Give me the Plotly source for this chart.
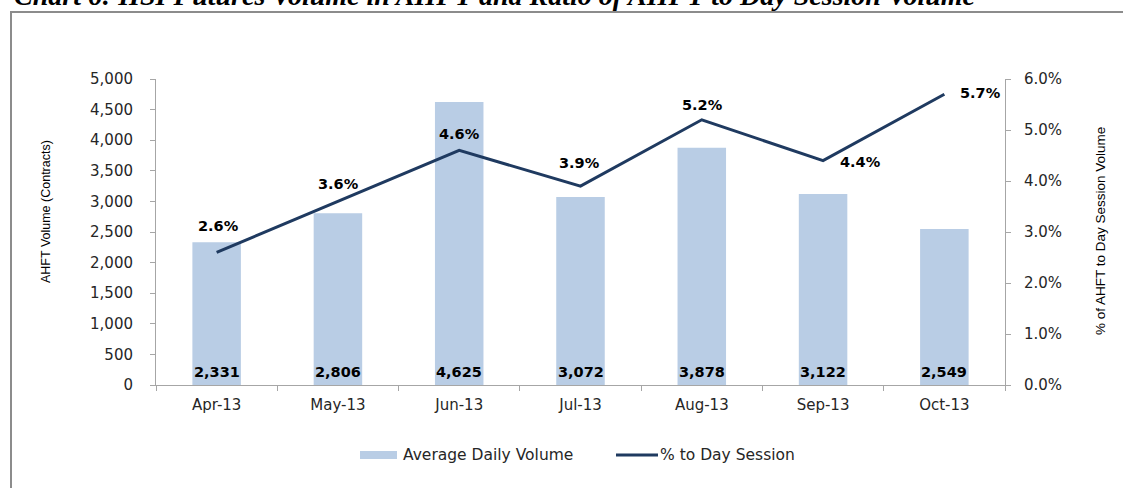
import plotly.graph_objects as go

months = ["Apr-13", "May-13", "Jun-13", "Jul-13", "Aug-13", "Sep-13", "Oct-13"]
volume = [2331, 2806, 4625, 3072, 3878, 3122, 2549]
ratio = [0.026, 0.036, 0.046, 0.039, 0.052, 0.044, 0.057]
vol_ticks = [0, 500, 1000, 1500, 2000, 2500, 3000, 3500, 4000, 4500, 5000]
pct_ticks = [0.0, 0.01, 0.02, 0.03, 0.04, 0.05, 0.06]

title_text = "Chart 6: HSI Futures Volume in AHFT and Ratio of AHFT to Day Session Volume"
left_title = "AHFT Volume (Contracts)"
right_title = "% of AHFT to Day Session Volume"
legend_bar = "Average Daily Volume"
legend_line = "% to Day Session"

# label offsets (px) for the ratio labels: (dx, dy up)
ratio_label_offsets = [(2, 26), (1, 17), (0, 16), (-1, 23), (1, 15), (37, -1), (36, 1)]

W, H = 1123, 488
L, R, T, B = 156, 1005, 79, 385
pw, ph = R - L, B - T


def px(x):
    return (x - L) / pw


def py(y):
    return (B - y) / ph


BAR_COLOR = "#B9CDE5"
LINE_COLOR = "#1F3A60"
AXIS_COLOR = "#A6A6A6"
TICK_FONT = dict(family="DejaVu Sans", size=15, color="#262626")
LEGEND_FONT = dict(family="DejaVu Sans", size=15.5, color="#262626")
LABEL_FONT = dict(family="DejaVu Sans", size=14.5, color="#000000", weight="bold")
TITLE_FONT = dict(family="Liberation Sans Narrow, Liberation Sans", size=12.5, color="#000000")

fig = go.Figure()
fig.add_trace(go.Bar(x=months, y=volume, marker=dict(color=BAR_COLOR, line=dict(width=0)),
                     width=0.4, name=legend_bar, showlegend=False, hoverinfo="skip"))
fig.add_trace(go.Scatter(x=months, y=ratio, mode="lines", yaxis="y2",
                         line=dict(color=LINE_COLOR, width=3), name=legend_line,
                         showlegend=False, hoverinfo="skip"))

annotations = []
for m, v in zip(months, volume):
    annotations.append(dict(x=m, y=0, xref="x", yref="y", text=f"{v:,}", showarrow=False,
                            yshift=13, xanchor="center", yanchor="middle", font=LABEL_FONT))
for m, r, (dx, dy) in zip(months, ratio, ratio_label_offsets):
    annotations.append(dict(x=m, y=r, xref="x", yref="y2", text=f"{r*100:.1f}%", showarrow=False,
                            xshift=dx, yshift=dy, xanchor="center", yanchor="middle", font=LABEL_FONT))

annotations.append(dict(x=px(45.5), y=py(211.5), xref="paper", yref="paper", text=left_title,
                        textangle=-90, showarrow=False, xanchor="center", yanchor="middle",
                        font=TITLE_FONT))
annotations.append(dict(x=px(1100), y=py(231), xref="paper", yref="paper", text=right_title,
                        textangle=-90, showarrow=False, xanchor="center", yanchor="middle",
                        font=dict(TITLE_FONT, size=13.5)))
annotations.append(dict(x=px(12), y=py(-5), xref="paper", yref="paper", text=title_text,
                        showarrow=False, xanchor="left", yanchor="middle",
                        font=dict(family="Liberation Serif", size=28, color="#000000",
                                  style="italic", weight="bold")))
# legend text
annotations.append(dict(x=px(401), y=py(455), xref="paper", yref="paper", text=legend_bar,
                        showarrow=False, xanchor="left", yanchor="middle", font=LEGEND_FONT))
annotations.append(dict(x=px(658), y=py(455), xref="paper", yref="paper", text=legend_line,
                        showarrow=False, xanchor="left", yanchor="middle", font=LEGEND_FONT))

shapes = [
    # outer frame
    dict(type="rect", xref="paper", yref="paper", x0=px(11), x1=px(1135), y0=py(500), y1=py(12),
         line=dict(color="#8C8C8C", width=2), fillcolor="rgba(0,0,0,0)", layer="below"),
    # legend swatches
    dict(type="rect", xref="paper", yref="paper", x0=px(360), x1=px(397), y0=py(459), y1=py(451),
         line=dict(width=0), fillcolor=BAR_COLOR),
    dict(type="line", xref="paper", yref="paper", x0=px(616), x1=px(658), y0=py(455), y1=py(455),
         line=dict(color=LINE_COLOR, width=3)),
]

fig.update_layout(
    width=W, height=H,
    margin=dict(l=L, r=W - R, t=T, b=H - B, pad=0),
    paper_bgcolor="white", plot_bgcolor="white",
    showlegend=False,
    bargap=0.6,
    xaxis=dict(type="category", range=[-0.5, 6.5], showgrid=False, zeroline=False,
               showline=True, linecolor=AXIS_COLOR, linewidth=1,
               ticks="outside", tickson="boundaries", ticklen=5, tickcolor=AXIS_COLOR,
               tickfont=TICK_FONT, ticklabelstandoff=6),
    yaxis=dict(range=[0, 5000], tickvals=vol_ticks, tickformat=",d", showgrid=False, zeroline=False,
               showline=True, linecolor=AXIS_COLOR, linewidth=1,
               ticks="outside", ticklen=5, tickcolor=AXIS_COLOR, tickfont=TICK_FONT,
               ticklabelstandoff=14),
    yaxis2=dict(range=[0, 0.06], tickvals=pct_ticks, tickformat=".1%", overlaying="y", side="right",
                showgrid=False, zeroline=False, showline=True, linecolor=AXIS_COLOR, linewidth=1,
                ticks="outside", ticklen=5, tickcolor=AXIS_COLOR, tickfont=TICK_FONT,
                ticklabelstandoff=10),
    annotations=annotations,
    shapes=shapes,
)

fig.write_html("out.html", config={"displayModeBar": False},
               post_script="document.body.style.margin='0';document.body.style.padding='0';"
                           "document.documentElement.style.overflow='hidden';")
